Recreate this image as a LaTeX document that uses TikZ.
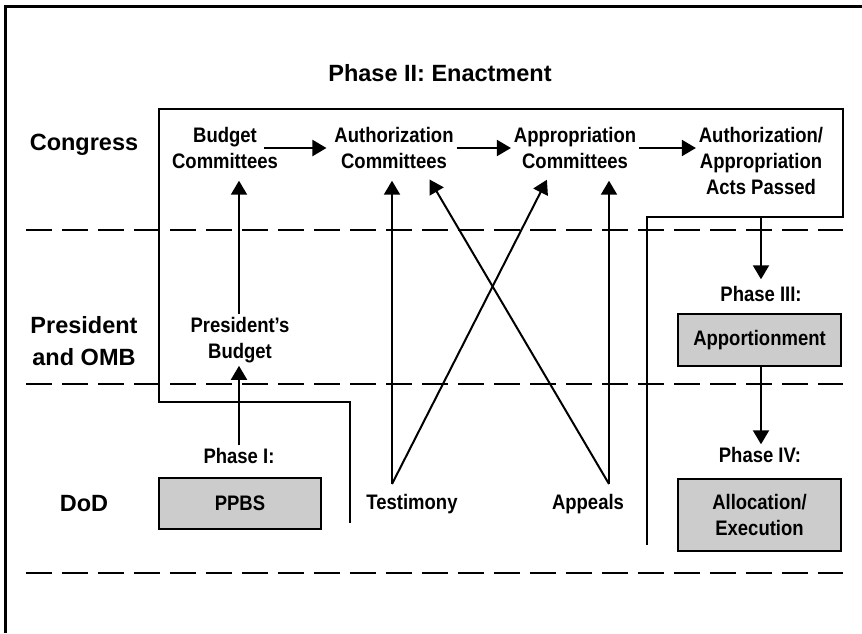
\documentclass[tikz,border=0pt]{standalone}
\usepackage{fontspec}
\setmainfont{Liberation Sans}
\newfontfamily\narrowsf{Liberation Sans}[FakeStretch=0.88]
\usetikzlibrary{arrows.meta, positioning, calc}
\definecolor{boxgray}{RGB}{204,204,204}

\tikzset{
    rowlabel/.style={font=\fontsize{23.5}{32}\selectfont\bfseries, align=center, inner sep=2pt},
    txt/.style={font=\narrowsf\fontsize{21}{26}\selectfont\bfseries, align=center, inner sep=2pt},
    phasebox/.style={txt, draw, line width=2.5pt, fill=boxgray, minimum width=163pt},
    lane/.style={dash pattern=on 26pt off 10pt, line width=2pt},
    wall/.style={line width=2pt},
}

\begin{document}
\begin{tikzpicture}[x=1pt, y=-1pt, line width=2pt, >={Triangle[length=14pt, width=16pt]}]
    \useasboundingbox (0,0) rectangle (862,633);
    \draw[line width=3pt] (5,633) -- (5,6) -- (862,6);

    % swim lanes
    \draw[lane] (26,230) -- (843,230);
    \draw[lane] (26,384) -- (843,384);
    \draw[lane] (26,573) -- (843,573);

    \node[rowlabel] (congress) at (84,145) {Congress};
    \node[rowlabel] (omb) at (84,341) {President\\and OMB};
    \node[rowlabel] (dod) at (84,504) {DoD};

    % phase II enclosure
    \node[rowlabel] (enact) at (440,73) {Phase II: Enactment};
    \coordinate (stepR) at (647,217);
    \draw[wall] (647,545) -- (stepR) -- (843,217) -- (843,109) -- (159,109) -- (159,402) -- (350,402) -- (350,523);

    \node[txt] (bc) at (225,148) {Budget\\Committees};
    \node[txt] (ac) at (394,148) {Authorization\\Committees};
    \node[txt] (pc) at (575,148) {Appropriation\\Committees};
    \node[txt] (acts) at (761,161) {Authorization/\\Appropriation\\Acts Passed};

    \draw[->] ([xshift=-17pt]bc.east) -- ([xshift=-5pt]ac.west);
    \draw[->] (ac) -- (pc);
    \draw[->] (pc) -- (pc -| acts.west);

    \node[txt] (pb) at (240,340) {President’s\\Budget};
    \node[txt] (ph1) at (239,456) {Phase I:};
    \node[phasebox, minimum width=162pt, minimum height=51pt] (ppbs) at (240,503.5) {PPBS};

    \draw[->] (ph1) -- (ph1 |- pb.south);
    \draw[->, shorten >=9pt] (ph1 |- pb.north) -- (ph1 |- bc.south);

    \node[txt] (testimony) at (412,504) {Testimony};
    \node[txt] (appeals) at (588,504) {Appeals};
    \coordinate (tm) at (392,484);
    \coordinate (ap) at (609,484);

    \draw[->, shorten >=9pt] (tm) -- (tm |- ac.south);
    \draw[->, shorten >=9pt] (tm) -- ([xshift=-24pt]pc.south);
    \draw[->, shorten >=9pt] (ap) -- (ap |- pc.south);
    \draw[->, shorten >=9pt] (ap) -- ([xshift=31pt]ac.south);

    \node[txt] (ph3) at (761,294) {Phase III:};
    \node[phasebox, minimum height=52pt] (apport) at (759.5,340) {Apportionment};
    \node[txt] (ph4) at (760,455) {Phase IV:};
    \node[phasebox, minimum height=72pt] (alloc) at (759.5,515) {Allocation/\\Execution};

    \draw[->, shorten >=4pt] (ph3 |- stepR) -- (ph3);
    \draw[->] (ph3 |- apport.south) -- (ph3 |- ph4.north);
\end{tikzpicture}
\end{document}
